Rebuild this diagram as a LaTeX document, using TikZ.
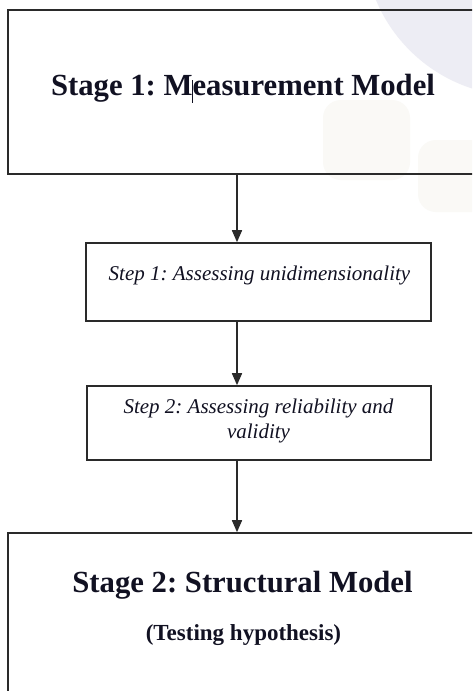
\documentclass[tikz,border=0pt]{standalone}
\usepackage{fontspec}
\setmainfont{Liberation Serif}
\frenchspacing
\usetikzlibrary{arrows.meta}
\definecolor{framegray}{HTML}{2A2A2A}
\definecolor{inkdark}{HTML}{111122}
\definecolor{wmblue}{HTML}{EDEDF4}
\definecolor{wmbeige}{HTML}{FAF9F6}
\tikzset{
  box/.style={draw=framegray, line width=1.6pt, rectangle, inner sep=0pt},
  stagetitle/.style={anchor=base, text=inkdark, font=\fontsize{30.7}{36}\selectfont\bfseries},
  stagesub/.style={anchor=base, text=inkdark, font=\fontsize{23}{27}\selectfont\bfseries},
  steptext/.style={anchor=base, text=inkdark, font=\fontsize{21}{25}\selectfont\itshape},
  flow/.style={draw=framegray, line width=1.6pt, -{Triangle[width=10pt,length=12pt]}}
}
\begin{document}
\begin{tikzpicture}[x=1pt, y=-1pt]
  \useasboundingbox (0,0) rectangle (472,691);
  \clip (0,0) rectangle (472,691);
  \fill[white] (0,0) rectangle (472,691);

  % faint background watermark
  \fill[wmblue] (520,-60) circle (156);
  \fill[wmbeige, rounded corners=18pt] (323,100) rectangle (410,180);
  \fill[wmbeige, rounded corners=18pt] (418,140) rectangle (490,212);

  % boxes
  \node[box, minimum width=470pt, minimum height=164pt] (stage1) at (243,92) {};
  \node[box, minimum width=345pt, minimum height=78pt] (step1) at (258.5,282) {};
  \node[box, minimum width=344pt, minimum height=74pt] (step2) at (259,423) {};
  \node[box, minimum width=470pt, minimum height=227pt] (stage2) at (243,646.5) {};

  % labels
  \node[stagetitle] (t1) at (243,95) {Stage 1: Measurement Model};
  \draw[inkdark, line width=0.9pt] (192.7,80) -- (192.7,103);
  \node[steptext] (s1) at (259.5,280) {Step 1: Assessing unidimensionality};
  \node[steptext] (s2a) at (258.5,413) {Step 2: Assessing reliability and};
  \node[steptext] (s2b) at (258.5,438) {validity};
  \node[stagetitle] (t2) at (242.5,592) {Stage 2: Structural Model};
  \node[stagesub] (t3) at (243.5,640) {(Testing hypothesis)};

  % connectors run down one common column
  \coordinate (col) at (237,0);
  \draw[flow] (stage1.south -| col) -- (step1.north -| col);
  \draw[flow] (step1.south -| col) -- (step2.north -| col);
  \draw[flow] (step2.south -| col) -- (stage2.north -| col);
\end{tikzpicture}
\end{document}
